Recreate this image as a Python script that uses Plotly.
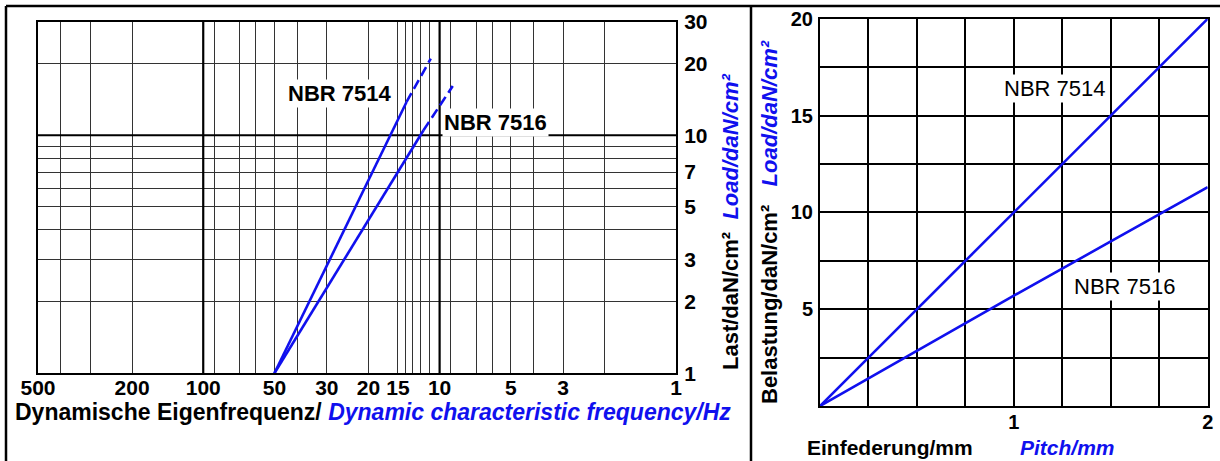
import math
import plotly.graph_objects as go

# ---------------- data: left chart (log-log, frequency vs load) ----------------
FREQ_GRID = [500, 400, 300, 200, 100, 90, 70, 60, 50, 40, 30, 20, 15, 14, 13, 12, 11, 10, 9, 7, 6, 5, 4, 3, 2, 1]
FREQ_LABELED = [500, 200, 100, 50, 30, 20, 15, 10, 5, 3, 1]
LOAD_GRID = [1, 2, 3, 4, 5, 6, 7, 8, 9, 10, 20, 30]
LOAD_LABELED = [1, 2, 3, 5, 7, 10, 20, 30]
FREQ_MAJOR = [100, 10]
LOAD_MAJOR = [10]

nbr7514_solid_f = [50, 13.8]
nbr7514_solid_load = [1, 13.8]
nbr7514_dash_f = [13.8, 10.9]
nbr7514_dash_load = [13.8, 21.0]
nbr7516_solid_f = [50, 11.7]
nbr7516_solid_load = [1, 10.5]
nbr7516_dash_f = [11.7, 8.8]
nbr7516_dash_load = [10.5, 16.1]

# ---------------- data: right chart (linear, pitch vs load) ----------------
PITCH = [0, 0.5, 1.0, 1.5, 2.0]
LOAD_7514 = [0, 5, 10, 15, 20]
LOAD_7516 = [0, 2.85, 5.7, 8.5, 11.3]
PITCH_TICKS = [0, 0.25, 0.5, 0.75, 1.0, 1.25, 1.5, 1.75, 2.0]
PITCH_LABELED = [1, 2]
BEL_TICKS = [0, 2.5, 5, 7.5, 10, 12.5, 15, 17.5, 20]
BEL_LABELED = [5, 10, 15, 20]

W, H = 1220, 461
FONT = "Liberation Sans, Arial, sans-serif"
BLUE = "#1010EE"


def px(x):
    return x / W


def py(y):
    return 1 - y / H


def labels(vals, shown):
    return [("<b>%g</b>" % v) if v in shown else "" for v in vals]


fig = go.Figure()

# thick major grid lines on the left chart
vx, vy = [], []
for f in FREQ_MAJOR:
    vx += [f, f, None]
    vy += [LOAD_GRID[0], LOAD_GRID[-1], None]
for l in LOAD_MAJOR:
    vx += [FREQ_GRID[0], FREQ_GRID[-1], None]
    vy += [l, l, None]
fig.add_trace(go.Scatter(x=vx, y=vy, mode="lines", line=dict(color="black", width=2.2),
                         xaxis="x", yaxis="y", hoverinfo="skip", showlegend=False))

for xs, ys, dash in [(nbr7514_solid_f, nbr7514_solid_load, "solid"),
                     (nbr7514_dash_f, nbr7514_dash_load, "10px,5px"),
                     (nbr7516_solid_f, nbr7516_solid_load, "solid"),
                     (nbr7516_dash_f, nbr7516_dash_load, "10px,5px")]:
    fig.add_trace(go.Scatter(x=xs, y=ys, mode="lines", line=dict(color=BLUE, width=2.6, dash=dash),
                             xaxis="x", yaxis="y", showlegend=False))

fig.add_trace(go.Scatter(x=PITCH, y=LOAD_7514, mode="lines", line=dict(color=BLUE, width=2.6),
                         xaxis="x2", yaxis="y2", showlegend=False))
fig.add_trace(go.Scatter(x=PITCH, y=LOAD_7516, mode="lines", line=dict(color=BLUE, width=2.6),
                         xaxis="x2", yaxis="y2", showlegend=False))

tickfont = dict(family=FONT, size=21, color="black")
tickfont2 = dict(family=FONT, size=20, color="black")

fig.update_layout(
    width=W, height=H, autosize=False,
    margin=dict(l=0, r=0, t=0, b=0, pad=0, autoexpand=False),
    paper_bgcolor="white", plot_bgcolor="white",
    showlegend=False,
    xaxis=dict(
        type="log", range=[math.log10(500), 0], domain=[px(38), px(676)],
        tickmode="array", tickvals=FREQ_GRID, ticktext=labels(FREQ_GRID, FREQ_LABELED),
        tickfont=tickfont, ticks="", ticklabelstandoff=-6, ticklabeloverflow="allow",
        showgrid=True, gridcolor="#333333", gridwidth=1.2, automargin=False,
        showline=True, linecolor="black", linewidth=2, mirror=True, zeroline=False,
        anchor="y",
    ),
    yaxis=dict(
        type="log", range=[0, math.log10(30)], domain=[py(373.3), py(21.7)],
        tickmode="array", tickvals=LOAD_GRID, ticktext=labels(LOAD_GRID, LOAD_LABELED),
        tickfont=tickfont, side="right", ticks="outside", ticklen=2, tickcolor="rgba(0,0,0,0)",
        ticklabeloverflow="allow",
        showgrid=True, gridcolor="#333333", gridwidth=1.2, automargin=False,
        showline=True, linecolor="black", linewidth=2, mirror=True, zeroline=False,
        anchor="x",
    ),
    xaxis2=dict(
        range=[0, 2], domain=[px(820), px(1207.7)],
        tickmode="array", tickvals=PITCH_TICKS, ticktext=labels(PITCH_TICKS, PITCH_LABELED),
        tickfont=tickfont2, ticks="", ticklabelstandoff=-3, ticklabeloverflow="allow",
        showgrid=True, gridcolor="black", gridwidth=2, automargin=False,
        showline=True, linecolor="black", linewidth=2, mirror=True, zeroline=False,
        anchor="y2",
    ),
    yaxis2=dict(
        range=[0, 20], domain=[py(406), py(18.8)],
        tickmode="array", tickvals=BEL_TICKS, ticktext=labels(BEL_TICKS, BEL_LABELED),
        tickfont=tickfont2, ticks="outside", ticklen=1, tickcolor="rgba(0,0,0,0)",
        ticklabeloverflow="allow",
        showgrid=True, gridcolor="black", gridwidth=2, automargin=False,
        showline=True, linecolor="black", linewidth=2, mirror=True, zeroline=False,
        anchor="x2",
    ),
)

# outer frame and panel divider
for x0, y0, x1, y1 in [(6, 6, W, 6), (6, 6, 6, H), (751, 6, 751, H)]:
    fig.add_shape(type="line", xref="paper", yref="paper",
                  x0=px(x0), y0=py(y0), x1=px(x1), y1=py(y1),
                  line=dict(color="black", width=2.5))

blue_span = "<span style='color:%s'>" % BLUE

annots = [
    # left chart
    dict(text="<b>NBR 7514</b>", x=px(340), y=py(94), size=22, bg="white"),
    dict(text="<b>NBR 7516</b>", x=px(495), y=py(123), size=22, bg="white"),
    dict(text="<b>Dynamische Eigenfrequenz/ </b>" + blue_span + "<b><i>Dynamic characteristic frequency/Hz</i></b></span>",
         x=px(373), y=py(412), size=23),
    dict(text="<b>Last/daN/cm²</b>  " + blue_span + "<b><i>Load/daN/cm²</i></b></span>",
         x=px(730), y=py(222), size=22, angle=-90),
    # right chart
    dict(text="<b>Belastung/daN/cm²</b>   " + blue_span + "<b><i>Load/daN/cm²</i></b></span>",
         x=px(769), y=py(222), size=22, angle=-90),
    dict(text="<b>Einfederung/mm</b>", x=px(890), y=py(447), size=21),
    dict(text=blue_span + "<b><i>Pitch/mm</i></b></span>", x=px(1067), y=py(447), size=21),
]
for a in annots:
    fig.add_annotation(text=a["text"], x=a["x"], y=a["y"], xref="paper", yref="paper",
                       showarrow=False, textangle=a.get("angle", 0),
                       font=dict(family=FONT, size=a["size"], color="black"),
                       bgcolor=a.get("bg", "rgba(0,0,0,0)"),
                       xanchor="center", yanchor="middle")

fig.add_annotation(text="NBR 7514", x=1.212, y=16.4, xref="x2", yref="y2", showarrow=False,
                   font=dict(family=FONT, size=22, color="black"), bgcolor="white")
fig.add_annotation(text="NBR 7516", x=1.573, y=6.15, xref="x2", yref="y2", showarrow=False,
                   font=dict(family=FONT, size=22, color="black"), bgcolor="white")

fig.write_html("out.html", config={"displayModeBar": False},
               post_script="document.body.style.margin='0px';")
